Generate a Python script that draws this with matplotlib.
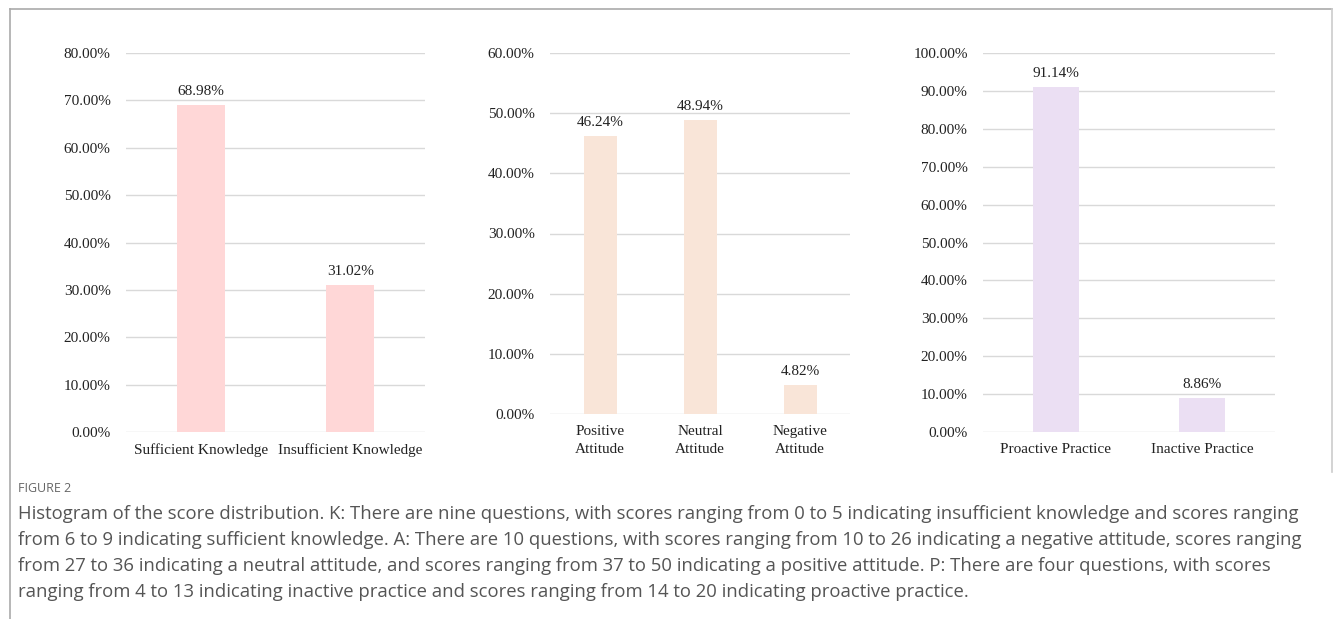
import matplotlib
matplotlib.use("Agg")
import matplotlib.pyplot as plt
from matplotlib.lines import Line2D
from matplotlib.ticker import FuncFormatter

W, H = 1333, 619

k_cats = ["Sufficient Knowledge", "Insufficient Knowledge"]
k_vals = [68.98, 31.02]
a_cats = ["Positive\nAttitude", "Neutral\nAttitude", "Negative\nAttitude"]
a_vals = [46.24, 48.94, 4.82]
p_cats = ["Proactive Practice", "Inactive Practice"]
p_vals = [91.14, 8.86]

caption_title = "FIGURE 2"
caption_lines = [
    "Histogram of the score distribution. K: There are nine questions, with scores ranging from 0 to 5 indicating insufficient knowledge and scores ranging",
    "from 6 to 9 indicating sufficient knowledge. A: There are 10 questions, with scores ranging from 10 to 26 indicating a negative attitude, scores ranging",
    "from 27 to 36 indicating a neutral attitude, and scores ranging from 37 to 50 indicating a positive attitude. P: There are four questions, with scores",
    "ranging from 4 to 13 indicating inactive practice and scores ranging from 14 to 20 indicating proactive practice.",
]

fig = plt.figure(figsize=(W / 100, H / 100), dpi=100)
fig.patch.set_facecolor("white")

serif = "Liberation Serif"
FS = 11


def px_axes(x0, x1, ytop, ybot):
    return fig.add_axes([x0 / W, 1 - ybot / H, (x1 - x0) / W, (ybot - ytop) / H])


def panel(ax, cats, vals, color, ymax, step, width):
    x = list(range(len(cats)))
    ax.bar(x, vals, width=width, color=color, zorder=2)
    ax.set_xlim(-0.5, len(cats) - 0.5)
    ax.set_ylim(0, ymax)
    ax.set_yticks([i * step for i in range(int(round(ymax / step)) + 1)])
    ax.yaxis.set_major_formatter(FuncFormatter(lambda v, p: f"{v:.2f}%"))
    ax.grid(axis="y", color="#d9d9d9", linewidth=1.0, zorder=0)
    ax.set_axisbelow(True)
    for s in ax.spines.values():
        s.set_visible(False)
    ax.set_xticks(x)
    ax.set_xticklabels(cats, fontfamily=serif, fontsize=FS, color="#222222",
                       linespacing=1.45)
    ax.tick_params(axis="x", length=0, pad=8)
    ax.tick_params(axis="y", length=0, pad=11, labelsize=FS, labelcolor="#222222")
    for lab in ax.get_yticklabels():
        lab.set_fontfamily(serif)
    for xi, v in zip(x, vals):
        ax.annotate(f"{v:.2f}%", (xi, v), xytext=(0, 5), textcoords="offset points",
                    ha="center", va="bottom", fontfamily=serif, fontsize=FS,
                    color="#222222")


ax1 = px_axes(126, 425, 53, 432)
panel(ax1, k_cats, k_vals, "#FFD7D7", 80, 10, 0.32)

ax2 = px_axes(550, 850, 53, 414)
panel(ax2, a_cats, a_vals, "#F9E5D8", 60, 10, 0.33)

ax3 = px_axes(983, 1275, 53, 432)
panel(ax3, p_cats, p_vals, "#EBDFF3", 100, 10, 0.31)


def fline(x0, y0, x1, y1, color="#aaaaaa", lw=1.2):
    fig.add_artist(Line2D([x0 / W, x1 / W], [1 - y0 / H, 1 - y1 / H],
                          color=color, linewidth=lw, transform=fig.transFigure))


fline(9.5, 8.5, 1332, 8.5)
fline(9.5, 8.5, 9.5, 619)
fline(1331.5, 8.5, 1331.5, 472, color="#cccccc")

fig.text(18 / W, 1 - 488 / H, caption_title, fontfamily="Open Sans", fontsize=9,
         color="#666666", va="center", ha="left")
for i, line in enumerate(caption_lines):
    fig.text(18 / W, 1 - (514 + 26 * i) / H, line, fontfamily="Open Sans",
             fontsize=13.3, color="#555555", va="center", ha="left")

fig.savefig("out.png", dpi=100, facecolor="white")
